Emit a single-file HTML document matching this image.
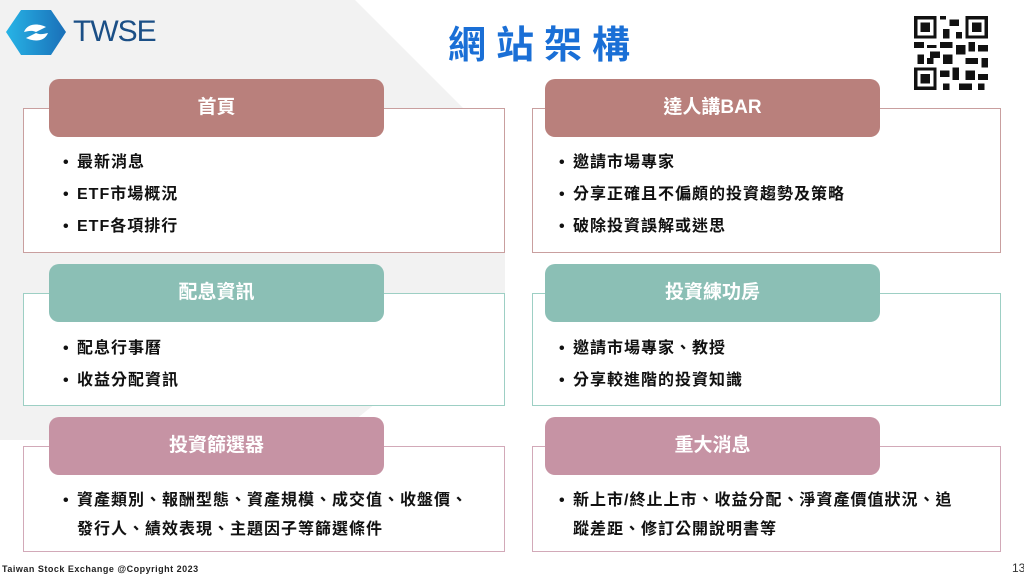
<!DOCTYPE html>
<html><head><meta charset="utf-8"><style>
body{margin:0;width:1024px;height:578px;position:relative;overflow:hidden;background:#fff;font-family:"Liberation Sans","Noto Sans CJK TC",sans-serif}
.o{position:absolute;background:#fff;box-sizing:border-box}
.h{position:absolute;border-radius:10px;color:#fff;font-size:19px;font-weight:bold;text-align:center;box-sizing:border-box}
.l{position:absolute;font-size:16px;font-weight:bold;color:#111;line-height:32px;letter-spacing:1px;white-space:nowrap}
.l div{position:relative;padding-left:14px}
.l div:before{content:"•";position:absolute;left:0}
.r1 .o{border:1.5px solid #c99f9f}.r1 .h{background:#b9807c}
.r2 .o{border:1.5px solid #9dcfc4}.r2 .h{background:#8bbfb5}
.r3 .o{border:1.5px solid #d2a9b8}.r3 .h{background:#c693a4}
</style></head><body>
<svg style="position:absolute;left:0;top:0" width="1024" height="578"><polygon points="0,0 355,0 505,150 505,300 330,440 0,440" fill="#f2f2f2"/></svg>
<svg style="position:absolute;left:6px;top:10px" width="60" height="45" viewBox="0 0 60 45"><defs><linearGradient id="g" x1="0" x2="1"><stop offset="0" stop-color="#27b4e6"/><stop offset="1" stop-color="#1a6fb8"/></linearGradient></defs><polygon points="15,0 45,0 60,22 45,45 15,45 0,22" fill="url(#g)"/><path d="M18,22 C22,12 34,14 40,17 L30,22 C26,20 22,21 18,22Z M42,23 C38,33 26,31 20,28 L30,23 C34,25 38,24 42,23Z" fill="#fff"/></svg>
<div style="position:absolute;left:73px;top:15px;font-size:30px;color:#1b4f86;letter-spacing:-1px">TWSE</div>
<div style="position:absolute;left:448px;top:14px;font-size:38px;font-weight:bold;color:#1a6fd6;letter-spacing:10px">網站架構</div>
<svg style="position:absolute;left:911px;top:13px" width="80" height="80" viewBox="0 0 25 25" shape-rendering="crispEdges"><rect width="25" height="25" fill="#fff"/>
<g fill="#111"><rect x="1" y="1" width="7" height="7"/><rect x="17" y="1" width="7" height="7"/><rect x="1" y="17" width="7" height="7"/></g>
<g fill="#fff"><rect x="2" y="2" width="5" height="5"/><rect x="18" y="2" width="5" height="5"/><rect x="2" y="18" width="5" height="5"/></g>
<g fill="#111"><rect x="3" y="3" width="3" height="3"/><rect x="19" y="3" width="3" height="3"/><rect x="3" y="19" width="3" height="3"/>
<rect x="9" y="1" width="2" height="1"/><rect x="12" y="2" width="3" height="2"/><rect x="10" y="5" width="2" height="3"/><rect x="14" y="6" width="2" height="2"/><rect x="1" y="9" width="3" height="2"/><rect x="5" y="10" width="3" height="1"/><rect x="9" y="9" width="4" height="2"/><rect x="14" y="10" width="3" height="3"/><rect x="18" y="9" width="2" height="3"/><rect x="21" y="10" width="3" height="2"/><rect x="2" y="13" width="2" height="3"/><rect x="6" y="12" width="3" height="2"/><rect x="10" y="13" width="3" height="3"/><rect x="17" y="14" width="4" height="2"/><rect x="22" y="14" width="2" height="3"/><rect x="9" y="18" width="3" height="2"/><rect x="13" y="17" width="2" height="4"/><rect x="17" y="18" width="3" height="3"/><rect x="21" y="19" width="3" height="2"/><rect x="10" y="22" width="2" height="2"/><rect x="15" y="22" width="4" height="2"/><rect x="21" y="22" width="2" height="2"/><rect x="5" y="14" width="2" height="2"/></g></svg>

<div class="r1"><div class="o" style="left:23px;top:108px;width:482px;height:145px"></div><div class="h" style="left:49px;top:79px;width:335px;height:58px;line-height:58px">首頁</div>
<div class="l" style="left:63px;top:147px"><div>最新消息</div><div>ETF市場概況</div><div>ETF各項排行</div></div>
<div class="o" style="left:532px;top:108px;width:469px;height:145px"></div><div class="h" style="left:545px;top:79px;width:335px;height:58px;line-height:58px">達人講BAR</div>
<div class="l" style="left:559px;top:147px"><div>邀請市場專家</div><div>分享正確且不偏頗的投資趨勢及策略</div><div>破除投資誤解或迷思</div></div></div>

<div class="r2"><div class="o" style="left:23px;top:293px;width:482px;height:113px"></div><div class="h" style="left:49px;top:264px;width:335px;height:58px;line-height:58px">配息資訊</div>
<div class="l" style="left:63px;top:333px"><div>配息行事曆</div><div>收益分配資訊</div></div>
<div class="o" style="left:532px;top:293px;width:469px;height:113px"></div><div class="h" style="left:545px;top:264px;width:335px;height:58px;line-height:58px">投資練功房</div>
<div class="l" style="left:559px;top:333px"><div>邀請市場專家、教授</div><div>分享較進階的投資知識</div></div></div>

<div class="r3"><div class="o" style="left:23px;top:446px;width:482px;height:106px"></div><div class="h" style="left:49px;top:417px;width:335px;height:58px;line-height:58px">投資篩選器</div>
<div class="l" style="left:63px;top:486px;line-height:29px"><div>資產類別、報酬型態、資產規模、成交值、收盤價、<br>發行人、績效表現、主題因子等篩選條件</div></div>
<div class="o" style="left:532px;top:446px;width:469px;height:106px"></div><div class="h" style="left:545px;top:417px;width:335px;height:58px;line-height:58px">重大消息</div>
<div class="l" style="left:559px;top:486px;line-height:29px"><div>新上市/終止上市、收益分配、淨資產價值狀況、追<br>蹤差距、修訂公開說明書等</div></div></div>

<div style="position:absolute;left:2px;top:564px;font-size:9px;font-weight:bold;color:#222;letter-spacing:0.5px">Taiwan Stock Exchange @Copyright 2023</div>
<div style="position:absolute;left:1012px;top:561px;font-size:12px;color:#333">13</div>
</body></html>
